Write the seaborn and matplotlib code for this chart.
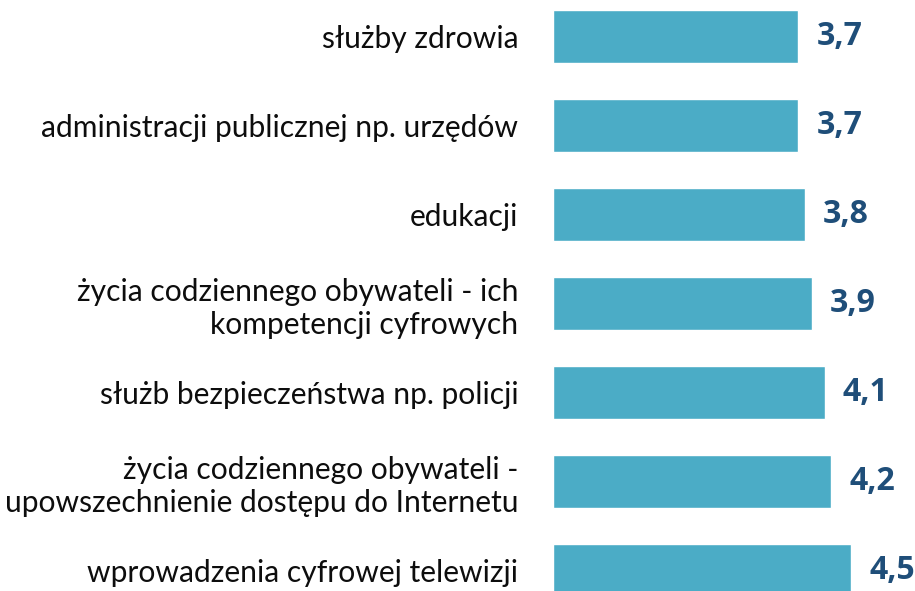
import matplotlib
matplotlib.use("Agg")
import matplotlib.pyplot as plt
import seaborn as sns
import pandas as pd

categories = [
    "służby zdrowia",
    "administracji publicznej np. urzędów",
    "edukacji",
    "życia codziennego obywateli - ich\nkompetencji cyfrowych",
    "służb bezpieczeństwa np. policji",
    "życia codziennego obywateli -\nupowszechnienie dostępu do Internetu",
    "wprowadzenia cyfrowej telewizji",
]
values = [3.7, 3.7, 3.8, 3.9, 4.1, 4.2, 4.5]
value_labels = ["3,7", "3,7", "3,8", "3,9", "4,1", "4,2", "4,5"]

df = pd.DataFrame({"kategoria": categories, "wartosc": values})

sns.set_theme(style="white")
plt.rcParams["font.family"] = ["Lato", "DejaVu Sans"]

W, H = 915, 591
fig = plt.figure(figsize=(W / 100, H / 100), dpi=100)
x0 = 553
ax = fig.add_axes([x0 / W, 0, (W - x0) / W, 1])

sns.barplot(data=df, y="kategoria", x="wartosc", orient="h",
            color="#4BACC6", width=0.6, saturation=1, ax=ax)

px_per_unit = 66.3
ax.set_xlim(0, (W - x0) / px_per_unit)
ax.set_ylim((H - 36.5) / 89, -36.5 / 89)

for c in ax.containers:
    ax.bar_label(c, labels=value_labels, padding=13, fontsize=23,
                 fontweight="bold", color="#1F4E79",
                 family=["Open Sans", "DejaVu Sans"])

ax.set_xlabel("")
ax.set_ylabel("")
ax.set_xticks([])
ax.tick_params(axis="y", length=0, pad=25, labelsize=21.6, labelcolor="#0D0D0D")
for lab in ax.get_yticklabels():
    lab.set_horizontalalignment("right")
    lab.set_multialignment("right")
    lab.set_linespacing(1.2)
for s in ax.spines.values():
    s.set_visible(False)

fig.savefig("out.png", dpi=100)
